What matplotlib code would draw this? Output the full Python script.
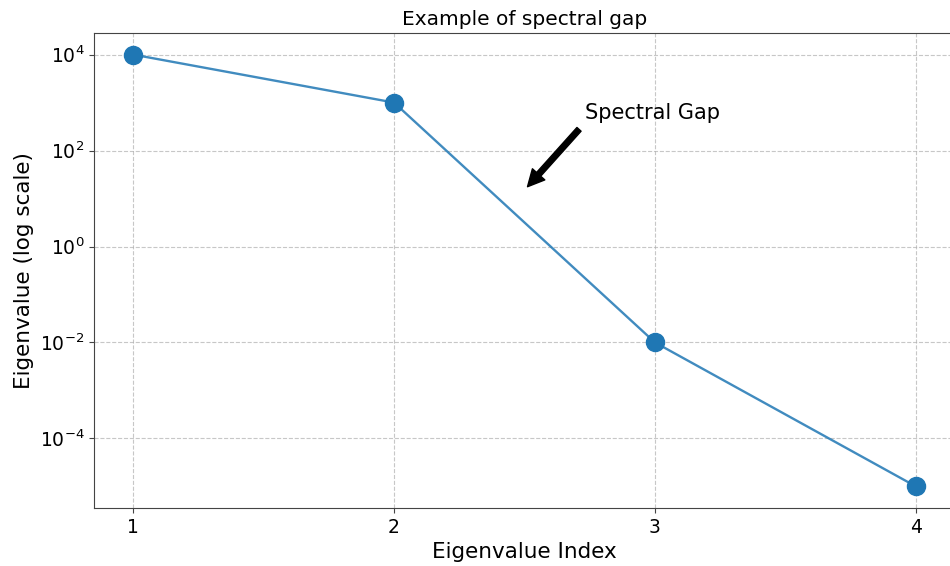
import numpy as np
import matplotlib
matplotlib.use('Agg')
import matplotlib.pyplot as plt
from matplotlib.ticker import NullLocator

# eigenvalues of a toy operator, one big drop between index 2 and 3
eig_index = [1, 2, 3, 4]
eig_values = [1e4, 1e3, 1e-2, 1e-5]

gap_point = (2.5, 15)
gap_text = (2.73, 450)

fig = plt.figure(figsize=(9.5, 5.66), dpi=100)
ax = fig.add_axes([94/950, 1 - 508/566, (955 - 94)/950, (508 - 33)/566])

ax.plot(eig_index, eig_values, color='#1f77b4', linewidth=1.7, alpha=0.85)
ax.plot(eig_index, eig_values, 'o', markersize=13, color='#1f77b4')
ax.set_yscale('log')
ax.yaxis.set_minor_locator(NullLocator())
ax.set_xticks(eig_index)

ax.annotate('Spectral Gap', xy=gap_point, xytext=gap_text, fontsize=15,
            arrowprops=dict(facecolor='black', shrink=0.05))

ax.set_title('Example of spectral gap', fontsize=14.5)
ax.set_xlabel('Eigenvalue Index', fontsize=15.5)
ax.set_ylabel('Eigenvalue (log scale)', fontsize=15.5)
ax.tick_params(labelsize=13.5, color='#444444')
for s in ax.spines.values():
    s.set_color('#444444')
ax.grid(True, linestyle='--', alpha=0.7)

fig.savefig('out.png', dpi=100)
